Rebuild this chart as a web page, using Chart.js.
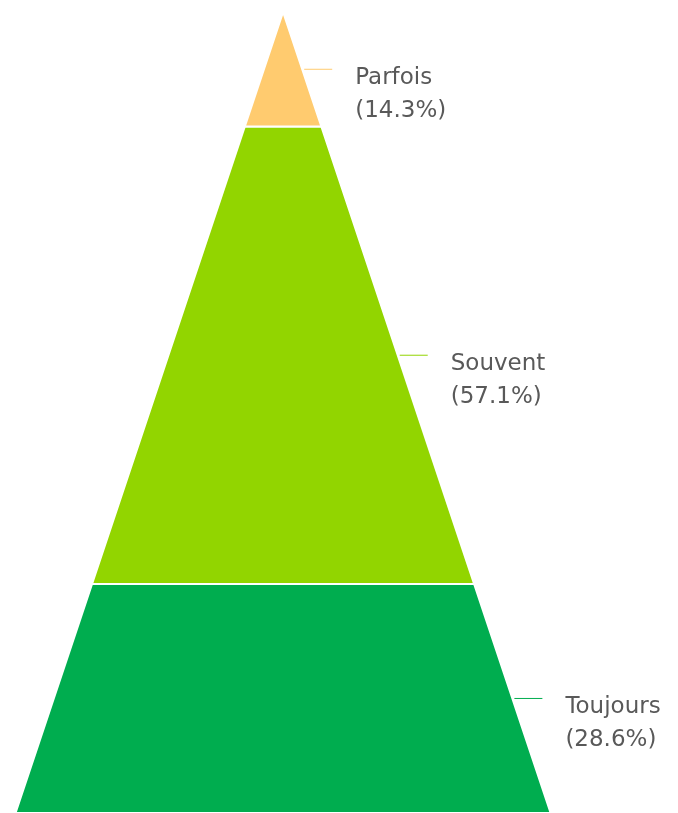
<!DOCTYPE html>
<html lang="fr">
<head>
<meta charset="utf-8">
<title>Pyramide</title>
<script src="https://cdn.jsdelivr.net/npm/chart.js@4.4.1/dist/chart.umd.min.js"></script>
<style>
  html, body { margin: 0; padding: 0; background: #fff; }
  #wrap { width: 678px; height: 813px; }
</style>
</head>
<body>
<div id="wrap"><canvas id="pyramid" width="678" height="813"></canvas></div>
<script>
// Niveaux de la pyramide, du sommet vers la base
const categories = ['Parfois', 'Souvent', 'Toujours'];
const percentages = [14.3, 57.1, 28.6];
const colors = ['#FFCB6F', '#92D500', '#00AD4F'];

const HALF_BASE = 50; // demi-largeur de la base, en unités de l'axe x

function halfWidth(level) {
  return HALF_BASE * level / 100;
}

// Chaque niveau = un trapèze fermé, hauteur proportionnelle au pourcentage
let cumul = 0;
const datasets = categories.map((name, i) => {
  const top = cumul;
  const bottom = cumul + percentages[i];
  cumul = bottom;
  return {
    label: name,
    data: [
      { x: -halfWidth(top), y: top },
      { x: halfWidth(top), y: top },
      { x: halfWidth(bottom), y: bottom },
      { x: -halfWidth(bottom), y: bottom },
      { x: -halfWidth(top), y: top }
    ],
    showLine: true,
    fill: 'shape',
    backgroundColor: colors[i],
    borderColor: '#ffffff',
    borderWidth: 2,
    pointRadius: 0,
    tension: 0
  };
});

// Étiquettes avec trait de rappel à droite
const labelPlugin = {
  id: 'pyramidLabels',
  afterDatasetsDraw(chart) {
    const { ctx, scales: { x, y } } = chart;
    let start = 0;
    percentages.forEach((p, i) => {
      const mid = start + p / 2;
      start += p;
      const ex = x.getPixelForValue(halfWidth(mid));
      const ey = y.getPixelForValue(mid);
      ctx.save();
      ctx.strokeStyle = colors[i];
      ctx.lineWidth = 1;
      ctx.beginPath();
      ctx.moveTo(ex + 2, ey);
      ctx.lineTo(ex + 30, ey);
      ctx.stroke();
      ctx.fillStyle = '#595959';
      ctx.font = '23px "DejaVu Sans"';
      ctx.textBaseline = 'middle';
      ctx.fillText(categories[i], ex + 53, ey + 9);
      ctx.fillText('(' + p.toFixed(1) + '%)', ex + 53, ey + 42);
      ctx.restore();
    });
  }
};

new Chart(document.getElementById('pyramid'), {
  type: 'scatter',
  data: { datasets },
  options: {
    responsive: false,
    animation: false,
    layout: { padding: { top: 12, left: 0, right: 0, bottom: 0 } },
    plugins: {
      legend: { display: false },
      tooltip: { enabled: false }
    },
    scales: {
      x: { type: 'linear', min: -52.9, max: 73.8, display: false },
      y: { type: 'linear', min: 0, max: 100, reverse: true, display: false }
    }
  },
  plugins: [labelPlugin]
});
</script>
</body>
</html>
